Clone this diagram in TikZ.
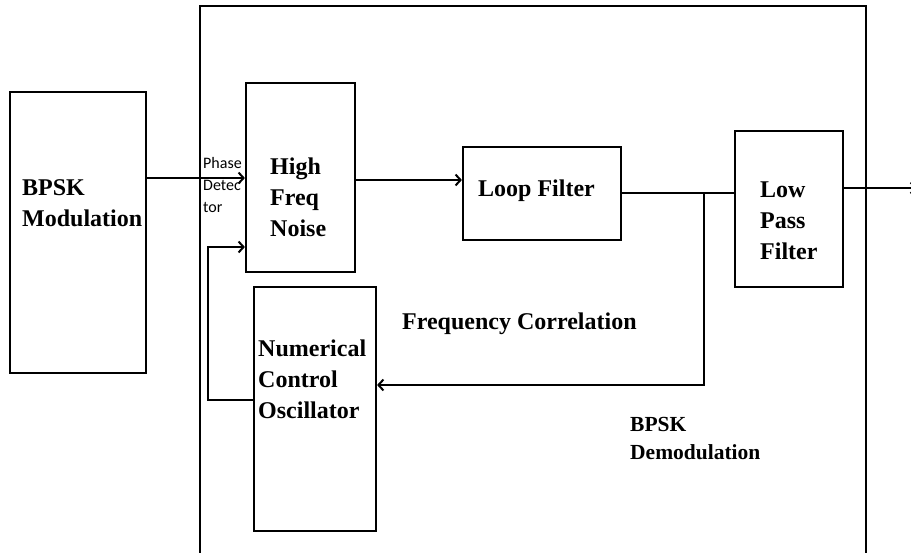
\documentclass[tikz,border=0pt]{standalone}
\usepackage{fontspec}
\setmainfont{Liberation Serif}
\newfontfamily\tnr{Liberation Serif}
\newfontfamily\calibri{Carlito}
\usepackage{tikz}
\usetikzlibrary{arrows.meta}

\tikzset{
  >={Straight Barb[length=5pt,width=11pt]},
  blk/.style={draw, line width=2.2pt, inner sep=0pt},
  wire/.style={line width=2pt},
  lbl/.style={font=\tnr\fontsize{24}{31}\selectfont\bfseries, align=left, inner sep=0pt, anchor=north west},
  small/.style={font=\tnr\fontsize{21.5}{28}\selectfont\bfseries, align=left, inner sep=0pt, anchor=north west},
  tiny/.style={font=\calibri\fontsize{16}{22}\selectfont, align=left, inner sep=0pt, anchor=north west}
}

\begin{document}
\begin{tikzpicture}[x=1pt, y=-1pt]
\useasboundingbox (0,0) rectangle (911,553);

% outer frame (open at the bottom)
\node[blk, minimum width=666pt, minimum height=570pt] (frame) at (533,291) {};

% Blocks
\node[blk, minimum width=136pt, minimum height=281pt] (bpsk) at (78,232.5) {};
\node[blk, minimum width=109pt, minimum height=189pt] (hfn) at (300.5,177.5) {};
\node[blk, minimum width=158pt, minimum height=93pt] (loop) at (542,193.5) {};
\node[blk, minimum width=108pt, minimum height=156pt] (lpf) at (789,209) {};
\node[blk, minimum width=122pt, minimum height=244pt] (nco) at (315,409) {};

% Texts
\node[lbl] (bpsktxt) at (22,179) {BPSK\\Modulation};
\node[tiny] (pdtxt) at (203,157) {Phase\\Detec\\tor};
\node[lbl] (hfntxt) at (270,158) {High\\Freq\\Noise};
\node[lbl] (looptxt) at (478,180) {Loop Filter};
\node[lbl] (lpftxt) at (760,182) {Low\\Pass\\Filter};
\node[lbl] (nctxt) at (258,340) {Numerical\\Control\\Oscillator};
\node[lbl] (fctxt) at (402,313) {Frequency Correlation};
\node[small] (demtxt) at (630,417) {BPSK\\Demodulation};

% Arrows
\coordinate (tap) at (704,193.5);
\coordinate (out) at (917,188);
\draw[wire, ->] (bpsk.east |- 0,178) -- (hfn.west |- 0,178);
\draw[wire, ->] (hfn.east |- 0,180) -- (loop.west |- 0,180);
\draw[wire] (loop.east) -- (lpf.west |- loop.east);
\draw[wire, ->] (tap) |- (nco.east |- 0,385);
\draw[wire, ->] (nco.west |- 0,400) -| (208,247) -- (hfn.west |- 0,247);
\draw[wire, ->] (lpf.east |- out) -- (out);
\end{tikzpicture}
\end{document}
